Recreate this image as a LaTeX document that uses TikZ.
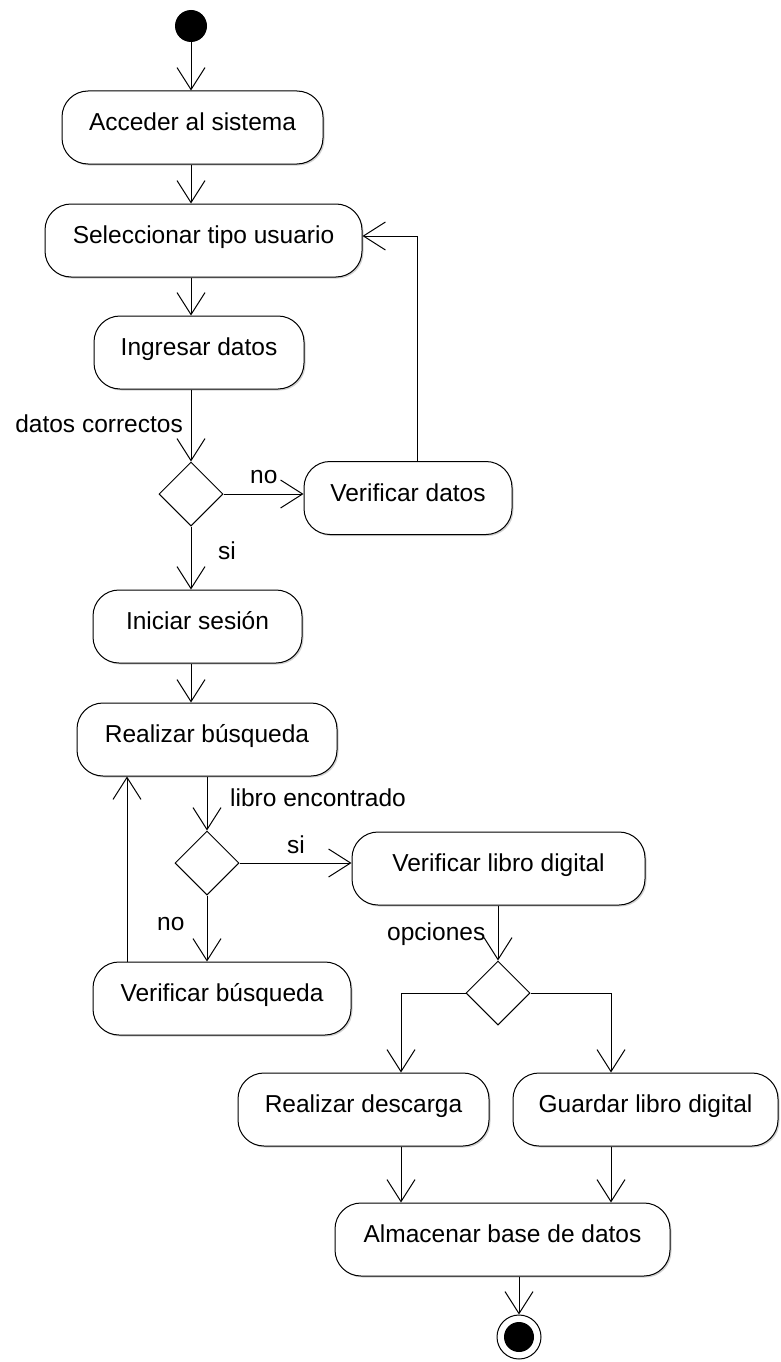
\documentclass[tikz,border=0pt]{standalone}
\usepackage{fontspec}
\setmainfont{Liberation Sans}
\usetikzlibrary{arrows.meta,shapes.geometric,shadows}

\tikzset{
  action/.style={draw, line width=1pt, rectangle, rounded corners=26pt,
    minimum height=73pt, inner sep=0pt, fill=white,
    text height=12pt, text depth=6pt, font=\fontsize{24.5}{28}\selectfont,
    drop shadow={shadow xshift=1.5pt, shadow yshift=-1.5pt, fill=black!30, opacity=0.6}},
  decision/.style={draw, line width=1pt, diamond, minimum width=64pt,
    minimum height=64pt, inner sep=0pt, fill=white},
  initial/.style={circle, fill=black, minimum size=32pt, inner sep=0pt},
  final/.style={circle, draw, line width=1pt, minimum size=44pt, inner sep=0pt,
    fill=white, path picture={\fill[black] (path picture bounding box.center) circle[radius=15pt];}},
  flow/.style={line width=1pt, -{Straight Barb[length=22pt,width=28pt]}},
  guard/.style={font=\fontsize{24.5}{28}\selectfont, inner sep=0pt},
}

\begin{document}
\begin{tikzpicture}[x=1pt, y=-1pt]
  \useasboundingbox (0,0) rectangle (781,1362);

  % activities
  \node[initial] (inicio) at (191,26) {};
  \node[action, minimum width=261pt] (acceder) at (192.5,127.5) {Acceder al sistema};
  \node[action, minimum width=317pt] (selec) at (203.5,240.5) {Seleccionar tipo usuario};
  \node[action, minimum width=210pt] (ingresar) at (199,352.5) {Ingresar datos};
  \node[decision] (d1) at (191,494) {};
  \node[action, minimum width=208pt] (verdatos) at (408,498) {Verificar datos};
  \node[action, minimum width=209pt] (iniciar) at (197.5,626.5) {Iniciar sesión};
  \node[action, minimum width=260pt] (buscar) at (207,739.5) {Realizar búsqueda};
  \node[decision] (d2) at (207,863) {};
  \node[action, minimum width=258pt] (verbusq) at (222,998.5) {Verificar búsqueda};
  \node[action, minimum width=293pt] (verlibro) at (498.5,868.5) {Verificar libro digital};
  \node[decision] (d3) at (498,993) {};
  \node[action, minimum width=251pt] (descarga) at (363.5,1109.5) {Realizar descarga};
  \node[action, minimum width=265pt] (guardar) at (645.5,1109.5) {Guardar libro digital};
  \node[action, minimum width=335pt] (almacenar) at (502.5,1239.5) {Almacenar base de datos};
  \node[final] (fin) at (519,1337) {};

  % guard labels
  \node[guard, anchor=base east] (g1) at (183,432) {datos correctos};
  \node[guard, anchor=base west] (g2) at (250,483) {no};
  \node[guard, anchor=base west] (g3) at (218,559) {si};
  \node[guard, anchor=base west] (g4) at (230,806) {libro encontrado};
  \node[guard, anchor=base west] (g5) at (287,853) {si};
  \node[guard, anchor=base west] (g6) at (157,930) {no};
  \node[guard, anchor=base west] (g7) at (387,940) {opciones};

  % attachment points for off-centre flows
  \coordinate (loopup) at ([xshift=9pt]verdatos.north);
  \coordinate (selin) at ([yshift=4.5pt]selec.east);
  \coordinate (retfrom) at ([xshift=-95pt]verbusq.north);
  \coordinate (retto) at ([xshift=-80pt]buscar.south);
  \coordinate (descin) at ([xshift=37.5pt]descarga.north);
  \coordinate (descout) at ([xshift=37.5pt]descarga.south);
  \coordinate (guardin) at ([xshift=-34.5pt]guardar.north);
  \coordinate (guardout) at ([xshift=-34.5pt]guardar.south);

  % control flows
  \draw[flow] (inicio) -- (inicio |- acceder.north);
  \draw[flow] (acceder.south -| inicio) -- (selec.north -| inicio);
  \draw[flow] (selec.south -| inicio) -- (ingresar.north -| inicio);
  \draw[flow] (ingresar.south -| d1) -- (d1.north);
  \draw[flow] (d1.east) -- (d1.east -| verdatos.west);
  \draw[flow] (loopup) |- (selin);
  \draw[flow] (d1.south) -- (d1.south |- iniciar.north);
  \draw[flow] (iniciar.south -| d1) -- (buscar.north -| d1);
  \draw[flow] (buscar.south) -- (d2.north);
  \draw[flow] (d2.east) -- (d2.east -| verlibro.west);
  \draw[flow] (d2.south) -- (d2.south |- verbusq.north);
  \draw[flow] (retfrom) -- (retto);
  \draw[flow] (verlibro.south -| d3) -- (d3.north);
  \draw[flow] (d3.west) -| (descin);
  \draw[flow] (d3.east) -| (guardin);
  \draw[flow] (descout) -- (descout |- almacenar.north);
  \draw[flow] (guardout) -- (guardout |- almacenar.north);
  \draw[flow] (almacenar.south -| fin) -- (fin);
\end{tikzpicture}
\end{document}
